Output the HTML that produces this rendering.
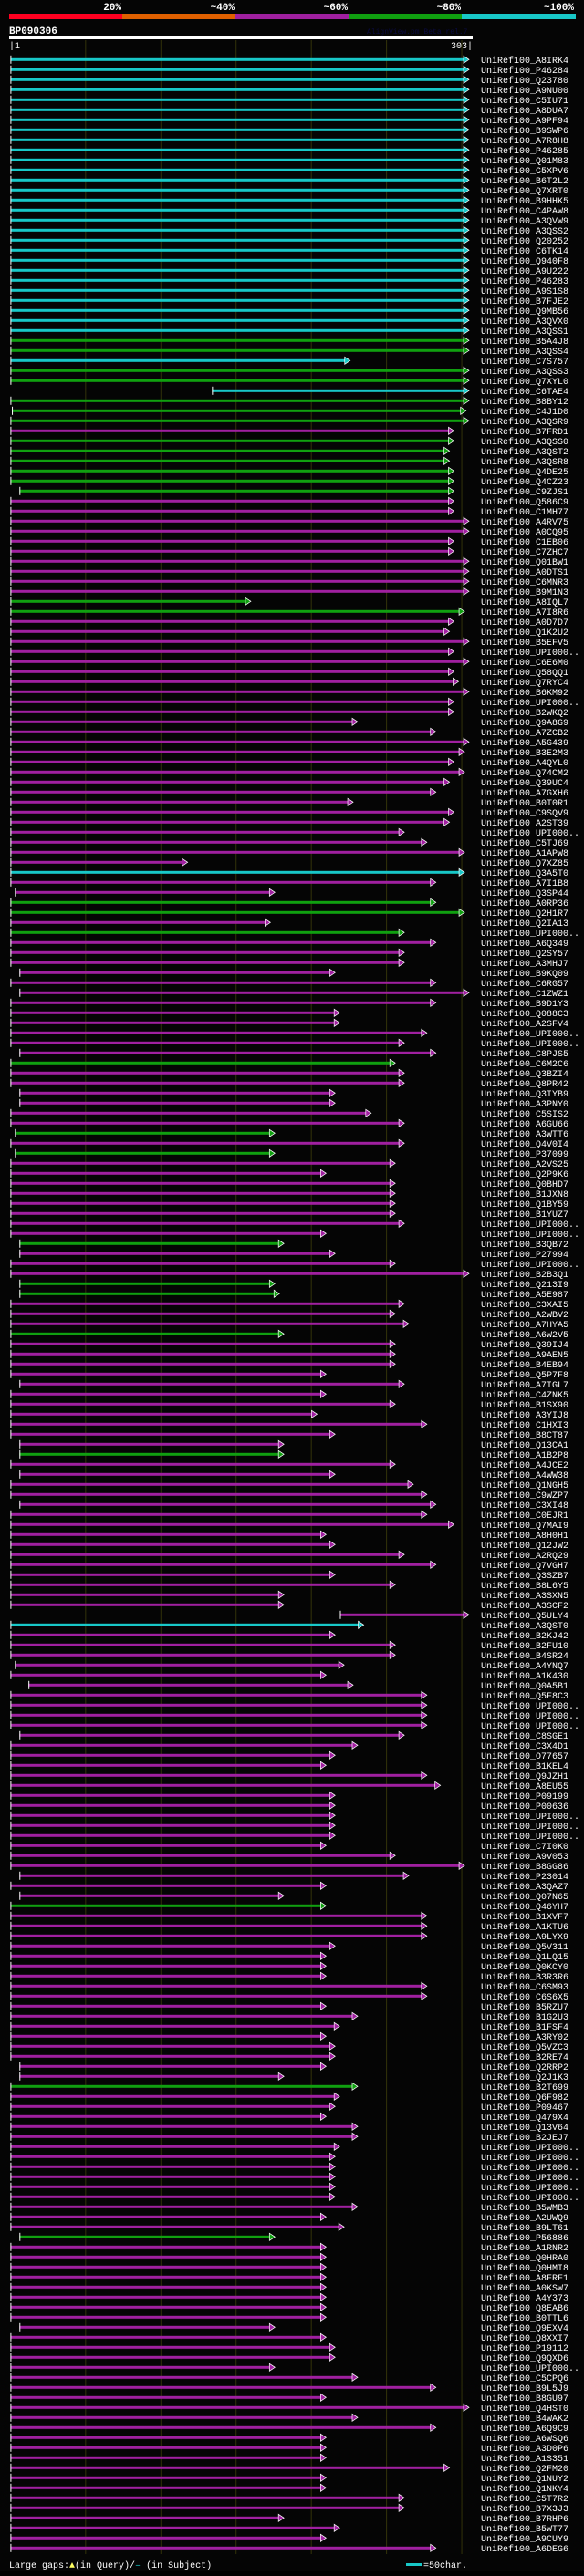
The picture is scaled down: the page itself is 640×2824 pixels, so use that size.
<!DOCTYPE html>
<html><head><meta charset="utf-8">
<style>
html,body{margin:0;padding:0;background:#000;}
body{width:640px;height:2819px;overflow:hidden;font-family:"Liberation Mono",monospace;}
svg text{font-family:"Liberation Mono",monospace;}
</style></head>
<body>
<svg id="chart" width="640" height="2819" viewBox="0 0 640 2819" xmlns="http://www.w3.org/2000/svg">
<rect x="0" y="0" width="640" height="2819" fill="#050505"/>
<g>
<rect x="10" y="15" width="124" height="6" fill="#ff0020"/>
<rect x="134" y="15" width="124" height="6" fill="#e06000"/>
<rect x="258" y="15" width="124" height="6" fill="#a020a0"/>
<rect x="382" y="15" width="124" height="6" fill="#10a010"/>
<rect x="506" y="15" width="125" height="6" fill="#18c8c8"/>
<text x="133" y="11" fill="#fff" font-size="11" font-weight="bold" text-anchor="end">20%</text>
<text x="257" y="11" fill="#fff" font-size="11" font-weight="bold" text-anchor="end">~40%</text>
<text x="381" y="11" fill="#fff" font-size="11" font-weight="bold" text-anchor="end">~60%</text>
<text x="505" y="11" fill="#fff" font-size="11" font-weight="bold" text-anchor="end">~80%</text>
<text x="629" y="11" fill="#fff" font-size="11" font-weight="bold" text-anchor="end">~100%</text>
</g>
<text x="10" y="37" fill="#fff" font-size="11" font-weight="bold">BP090306</text>
<text x="402" y="37" fill="#0a0a40" font-size="8">AlignView.pm Beta rel.7</text>
<rect x="10" y="39" width="508" height="4" fill="#fff"/>
<text x="10" y="53" fill="#fff" font-size="10">|1</text>
<text x="518" y="53" fill="#fff" font-size="10" text-anchor="end">303|</text>
<g id="grid"></g>
<g id="rows"></g>
<text x="10" y="2815" fill="#fff" font-size="10">Large gaps:<tspan fill="#ffff60">▲</tspan>(in Query)/<tspan fill="#18c8c8">–</tspan> (in Subject)</text>
<rect x="445" y="2810" width="17" height="3" fill="#18c8c8"/>
<text x="464" y="2815" fill="#fff" font-size="10">=50char.</text>
</svg>
<script>
const labels = ["A8IRK4","P46284","Q23780","A9NU00","C5IU71","A8DUA7","A9PF94","B9SWP6","A7R8H8","P46285","Q01M83","C5XPV6","B6T2L2","Q7XRT0","B9HHK5","C4PAW8","A3QVW9","A3QSS2","Q20252","C6TK14","Q940F8","A9U222","P46283","A9S1S8","B7FJE2","Q9MB56","A3QVX0","A3QSS1",
"B5A4J8","A3QSS4","C7S757","A3QSS3","Q7XYL0","C6TAE4","B8BY12","C4J1D0","A3QSR9","B7FRD1","A3QSS0","A3QST2","A3QSR8","Q4DE25","Q4CZ23","C9ZJS1","Q586C9","C1MH77","A4RV75","A0CQ95","C1EB06","C7ZHC7","Q01BW1","A0DTS1","C6MNR3","B9M1N3","A8IQL7","A7I8R6",
"A0D7D7","Q1K2U2","B5EFV5","UPI000..","C6E6M0","Q58QQ1","Q7RYC4","B6KM92","UPI000..","B2WKQ2","Q9A8G9","A7ZCB2","A5G439","B3E2M3","A4QYL0","Q74CM2","Q39UC4","A7GXH6","B0T0R1","C9SQV9","A2ST39","UPI000..","C5TJ69","A1APW8","Q7XZ85","Q3A5T0","A7I1B8","Q3SP44",
"A0RP36","Q2H1R7","Q2IA13","UPI000..","A6Q349","Q2SY57","A3MHJ7","B9KQ09","C6RG57","C1ZWZ1","B9D1Y3","Q088C3","A2SFV4","UPI000..","UPI000..","C8PJS5","C6M2C6","Q3BZI4","Q8PR42","Q3IYB9","A3PNY0","C5SIS2","A6GU66","A3WTT6","Q4V0I4","P37099","A2VS25","Q2P9K6","Q0BHD7","B1JXN8","Q1BY59","B1YUZ7","UPI000..","UPI000..","B3QB72","P27994","UPI000..","B2B3Q1","Q213I9","A5E987","C3XAI5","A2WBV2","A7HYA5","A6W2V5","Q39IJ4","A9AEN5","B4EB94","Q5P7F8","A7IGL7","C4ZNK5","B1SX90","A3YIJ8","C1HXI3","B8CT87",
"Q13CA1","A1B2P8","A4JCE2","A4WW38","Q1NGH5","C9WZP7","C3XI48","C0EJR1","Q7MAI9","A8H0H1","Q12JW2","A2RQ29","Q7VGH7","Q3SZB7","B8L6Y5","A3SXN5","A3SCF2","Q5ULY4","A3QST0","B2KJ42","B2FU10","B4SR24","A4YNQ7","A1K430","Q0A5B1","Q5F8C3","UPI000..","UPI000..","UPI000..","C8SGE1","C3X4D1","O77657","B1KEL4","Q9JZH1","A8EU55","P09199","P00636","UPI000..","UPI000..","UPI000..","C7I0K0","A9V053","B8GG86","P23014","A3QAZ7","Q07N65","Q46YH7","B1XVF7","A1KTU6","A9LYX9","Q5V311","Q1LQ15","Q0KCY0","B3R3R6",
"C6SM93","C6S6X5","B5RZU7","B1G2U3","B1FSF4","A3RY02","Q5VZC3","B2RE74","Q2RRP2","Q2J1K3","B2T699","Q6F982","P09467","Q479X4","Q13V64","B2JEJ7","UPI000..","UPI000..","UPI000..","UPI000..","UPI000..","UPI000..","B5WMB3","A2UWQ9","B9LT61","P56886","A1RNR2","Q0HRA0","Q0HMI8","A8FRF1","A0KSW7","A4Y373","Q8EAB6","B0TTL6","Q9EXV4","Q8XXI7","P19112","Q9QXD6","UPI000..","C5CPQ6","B9L5J9","B8GU97","Q4HST0","B4WAK2","A6Q9C9","A6WSQ6","A3D0P6","A1S351","Q2FM20","Q1NUY2","Q1NKY4","C5T7R2","B7X3J3","B7RHP6","B5WT77","A9CUY9","A6DEG6"];
const identityClass = ("cccccccccccccccccccccccccccc"+
"ggcggcggg"+"mggggggmmmmmmmmmmgg"+"m"+
"mmmmmmmmmmmmmmmmmmmmmmmmcmmg"+
"gmgmmmmmmmmmmmmgmmmmmmgmgmmmmmmmmgmmmggmmmgmmmmmmmmmm"+"m"+
"gmmmmmmmmmmmmmmmmcmmmmmmmmmmmmmmmmmmmmmmmmmmmgmmmmmmmm"+
"mmmmmmmmmgmmmmmmmmmmmmmmgmmmmmmmmmmmmmmmmmmmmmmmmmmmmmmmmmm").split("");
const alignStart = [0,0,0,0,0,0,0,0,0,0,0,0,0,0,0,0,0,0,0,0,0,0,0,0,0,0,0,0,
0,0,0,0,0,134,0,1,0,0,0,0,0,0,0,6,0,0,0,0,0,0,0,0,0,0,0,0,
0,0,0,0,0,0,0,0,0,0,0,0,0,0,0,0,0,0,0,0,0,0,0,0,0,0,0,3,
0,0,0,0,0,0,0,6,0,6,0,0,0,0,0,6,0,0,0,6,6,0,0,3,0,3,0,0,0,0,0,0,0,0,6,6,0,0,6,6,0,0,0,0,0,0,0,0,6,0,0,0,0,0,
6,6,0,6,0,0,6,0,0,0,0,0,0,0,0,0,0,219,0,0,0,0,3,0,12,0,0,0,0,6,0,0,0,0,0,0,0,0,0,0,0,0,0,6,0,6,0,0,0,0,0,0,0,0,
0,0,0,0,0,0,0,0,6,6,0,0,0,0,0,0,0,0,0,0,0,0,0,0,0,6,0,0,0,0,0,0,0,0,6,0,0,0,0,0,0,0,0,0,0,0,0,0,0,0,0,0,0,0,0,0,0];
const alignEnd = [303,303,303,303,303,303,303,303,303,303,303,303,303,303,303,303,303,303,303,303,303,303,303,303,303,303,303,303,
303,303,224,303,303,303,303,301,303,293,293,290,290,293,293,293,293,293,303,303,293,293,303,303,303,303,158,300,
293,290,303,293,303,293,296,303,293,293,229,281,303,300,293,300,290,281,226,293,290,260,275,300,116,300,281,174,
281,300,171,260,281,260,260,214,281,303,281,217,217,275,260,281,254,260,260,214,214,238,260,174,260,174,254,208,254,254,254,254,260,208,180,214,254,303,174,177,260,254,263,180,254,254,254,208,260,208,254,202,275,214,
180,180,254,214,266,275,281,275,293,208,214,260,281,214,254,180,180,303,233,214,254,254,220,208,226,275,275,275,275,260,229,214,208,275,284,214,214,214,214,214,208,254,300,263,208,180,208,275,275,275,214,208,208,208,
275,275,208,229,217,208,214,214,208,180,229,217,214,208,229,229,217,214,214,214,214,214,229,208,220,174,208,208,208,208,208,208,208,208,174,208,214,214,174,229,281,208,303,229,281,208,208,208,290,208,208,260,260,180,217,208,281];
const seqLen = 303;
const tickPositions = [50,100,150,200,250,300];

const NS = "http://www.w3.org/2000/svg";
const xScale = p => 11.4 + p * (511 - 11.4) / seqLen;
const yRow = i => 65.3 + i * 11;
const palette = {c:"#18c8c8", g:"#10a010", m:"#a020a0"};
const grid = document.getElementById("grid");
const rowsG = document.getElementById("rows");

tickPositions.forEach(t => {
  const ln = document.createElementNS(NS, "line");
  ln.setAttribute("x1", xScale(t)); ln.setAttribute("x2", xScale(t));
  ln.setAttribute("y1", 44); ln.setAttribute("y2", 2800);
  ln.setAttribute("stroke", "#33330a"); ln.setAttribute("stroke-width", "1");
  
  
  grid.appendChild(ln);
});

labels.forEach((lab, i) => {
  const y = yRow(i);
  const col = palette[identityClass[i]] || palette.m;
  const s = Math.max(0, alignStart[i]);
  const e = Math.min(seqLen, alignEnd[i]);
  const x0 = xScale(s), x1 = xScale(e);
  const g = document.createElementNS(NS, "g");
  
  
  const bar = document.createElementNS(NS, "rect");
  bar.setAttribute("x", x0); bar.setAttribute("y", y - 1.5);
  bar.setAttribute("width", Math.max(0, x1 - x0 - 2)); bar.setAttribute("height", 3);
  bar.setAttribute("fill", col);
  
  
  g.appendChild(bar);
  const tick = document.createElementNS(NS, "rect");
  tick.setAttribute("x", x0); tick.setAttribute("y", y - 4.5);
  tick.setAttribute("width", 1); tick.setAttribute("height", 9);
  tick.setAttribute("fill", "#fff");
  
  
  g.appendChild(tick);
  const arr = document.createElementNS(NS, "polygon");
  arr.setAttribute("points", `${x1-3},${y-4} ${x1+3},${y} ${x1-3},${y+4}`);
  arr.setAttribute("fill", col); arr.setAttribute("stroke", "#fff"); arr.setAttribute("stroke-width", "0.7");
  
  
  g.appendChild(arr);
  const t = document.createElementNS(NS, "text");
  t.setAttribute("x", 527); t.setAttribute("y", y + 3.5);
  t.setAttribute("fill", "#fff"); t.setAttribute("font-size", "10");
  t.textContent = "UniRef100_" + lab;
  
  
  g.appendChild(t);
  rowsG.appendChild(g);
});
</script>
</body></html>
